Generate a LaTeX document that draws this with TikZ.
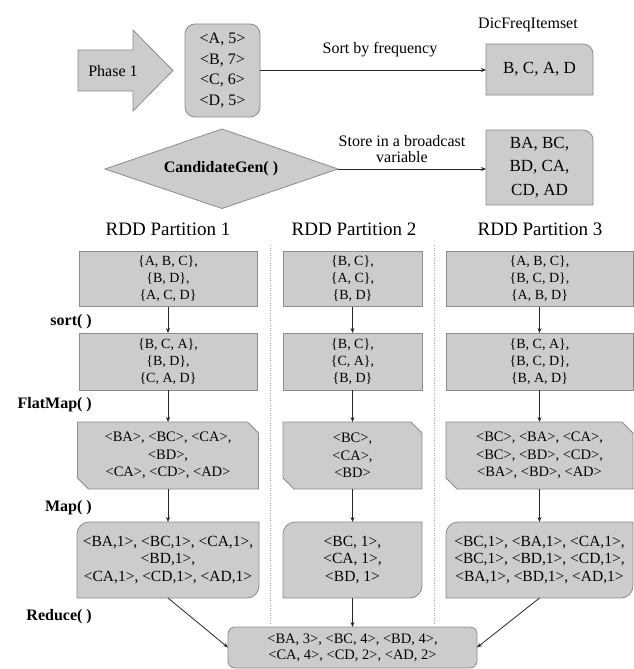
\documentclass[tikz,border=0pt]{standalone}
\usepackage{fontspec}
\setmainfont{Liberation Serif}
\usetikzlibrary{arrows.meta,backgrounds}
\definecolor{boxfill}{RGB}{204,204,204}
\definecolor{boxline}{RGB}{140,140,140}
\tikzset{
  bx/.style={fill=boxfill,draw=boxline,line width=0.8pt},
  arr/.style={-{Stealth[length=5pt,width=4pt]},line width=0.8pt,black!85},
  holder/.style={inner sep=0pt,outer sep=0pt,align=center},
  ftop/.style={font=\fontsize{16}{20.5}\selectfont},
  fbig/.style={font=\fontsize{17}{23.5}\selectfont},
  fset/.style={font=\fontsize{14}{17}\selectfont},
  fflat/.style={font=\fontsize{14.5}{17.5}\selectfont},
  fmap/.style={font=\fontsize{15.5}{17.5}\selectfont},
  fred/.style={font=\fontsize{14.5}{16}\selectfont},
  fhead/.style={font=\fontsize{19}{22}\selectfont},
  lbl/.style={font=\fontsize{16}{19}\selectfont\bfseries,inner sep=0pt,anchor=east},
  sep/.style={draw=gray!70,line width=0.5pt,dotted},
}
\newcommand\plainshape[1]{\draw[bx] (#1.south west) rectangle (#1.north east);}
\newcommand\allroundshape[2]{\draw[bx,rounded corners=#2] (#1.south west) rectangle (#1.north east);}
\newcommand\trroundshape[1]{\draw[bx] (#1.south west) -- (#1.north west) -- ([xshift=-10pt]#1.north east) arc[start angle=90,end angle=0,radius=10pt] -- (#1.south east) -- cycle;}
\newcommand\diagroundshape[1]{\draw[bx] (#1.south west) -- ([yshift=-12pt]#1.north west) arc[start angle=180,end angle=90,radius=12pt] -- (#1.north east) -- ([yshift=12pt]#1.south east) arc[start angle=0,end angle=-90,radius=12pt] -- cycle;}
\newcommand\snipshape[1]{\draw[bx] (#1.north west) -- ([xshift=-11pt]#1.north east) -- ([yshift=-11pt]#1.north east) -- (#1.south east) -- ([xshift=11pt]#1.south west) -- ([yshift=11pt]#1.south west) -- cycle;}
\begin{document}
\begin{tikzpicture}[x=1pt,y=-1pt]
\useasboundingbox (0,0) rectangle (634,669);
% ---------- top part ----------
\draw[bx] (78,50) -- (133,50) -- (133,30) -- (173,70.5) -- (133,111) -- (133,91) -- (78,91) -- cycle;
\node[holder,ftop] (phase) at (113,71) {Phase 1};
\node[holder,ftop,minimum width=75pt,minimum height=93pt] (list) at (222.5,70.5)
  {<A, 5>\\<B, 7>\\<C, 6>\\<D, 5>};
\node[holder,ftop] (dictitle) at (528,25) {DicFreqItemset};
\node[holder,fbig,minimum width=107pt,minimum height=51pt] (dic) at (539.5,69.5) {B, C, A, D};
\node[holder,ftop] (sortlbl) at (380,50) {Sort by frequency};
\draw[bx] (105,169) -- (222,129) -- (338,169) -- (222,208.5) -- cycle;
\node[holder,font=\fontsize{16}{19}\selectfont\bfseries] (cand) at (221,169) {CandidateGen( )};
\coordinate (candE) at (338,169);
\node[holder,fbig,minimum width=107pt,minimum height=75pt] (bcast) at (539.5,167.5)
  {BA, BC,\\BD, CA,\\CD, AD};
\node[holder,font=\fontsize{16}{16.5}\selectfont] (storelbl) at (402,149) {Store in a broadcast\\variable};
\draw[arr] (list.east |- 0,70) -- (dic.west |- 0,70);
\draw[arr] (candE) -- (candE -| bcast.west);
% ---------- headings ----------
\node[holder,fhead] (h1) at (168,229) {RDD Partition 1};
\node[holder,fhead] (h2) at (354,229) {RDD Partition 2};
\node[holder,fhead] (h3) at (540,229) {RDD Partition 3};
\draw[sep] (270,245) -- (270,623);
\draw[sep] (434,245) -- (434,623);
% ---------- column 1 ----------
\node[holder,fset,minimum width=178pt,minimum height=55pt] (t1) at (168,279) {\{A, B, C\},\\\{B, D\},\\\{A, C, D\}};
\node[holder,fset,minimum width=178pt,minimum height=57pt] (s1) at (168,361.5) {\{B, C, A\},\\\{B, D\},\\\{C, A, D\}};
\node[holder,fflat,minimum width=181pt,minimum height=67pt] (f1) at (168,455.5) {<BA>, <BC>, <CA>,\\<BD>,\\<CA>, <CD>, <AD>};
\node[holder,fmap,minimum width=182pt,minimum height=76pt] (m1) at (168,560) {<BA,1>, <BC,1>, <CA,1>,\\<BD,1>,\\<CA,1>, <CD,1>, <AD,1>};
% ---------- column 2 ----------
\node[holder,fset,minimum width=139pt,minimum height=55pt] (t2) at (352.5,279) {\{B, C\},\\\{A, C\},\\\{B, D\}};
\node[holder,fset,minimum width=139pt,minimum height=57pt] (s2) at (352.5,361.5) {\{B, C\},\\\{C, A\},\\\{B, D\}};
\node[holder,fflat,minimum width=139pt,minimum height=67pt] (f2) at (352.5,455.5) {<BC>,\\<CA>,\\<BD>};
\node[holder,fmap,minimum width=139pt,minimum height=76pt] (m2) at (352.5,560) {<BC, 1>,\\<CA, 1>,\\<BD, 1>};
% ---------- column 3 ----------
\node[holder,fset,minimum width=187pt,minimum height=55pt] (t3) at (539.5,279) {\{A, B, C\},\\\{B, C, D\},\\\{A, B, D\}};
\node[holder,fset,minimum width=187pt,minimum height=57pt] (s3) at (539.5,361.5) {\{B, C, A\},\\\{B, C, D\},\\\{B, A, D\}};
\node[holder,fflat,minimum width=187pt,minimum height=67pt] (f3) at (539.5,455.5) {<BC>, <BA>, <CA>,\\<BC>, <BD>, <CD>,\\<BA>, <BD>, <AD>};
\node[holder,fmap,minimum width=187pt,minimum height=76pt] (m3) at (539.5,560) {<BC,1>, <BA,1>, <CA,1>,\\<BC,1>, <BD,1>, <CD,1>,\\<BA,1>, <BD,1>, <AD,1>};
% ---------- reduce ----------
\node[holder,fred,minimum width=249pt,minimum height=41pt] (red) at (352.5,647.5) {<BA, 3>, <BC, 4>, <BD, 4>,\\<CA, 4>, <CD, 2>, <AD, 2>};
% ---------- labels ----------
\node[lbl] (lsort) at (92,322) {sort( )};
\node[lbl] (lflat) at (92,405) {FlatMap( )};
\node[lbl] (lmap) at (92,508) {Map( )};
\node[lbl] (lred) at (92,617) {Reduce( )};
% ---------- arrows ----------
\foreach \c in {1,2,3}{
  \draw[arr] (t\c.south) -- (s\c.north);
  \draw[arr] (s\c.south) -- (f\c.north);
  \draw[arr] (f\c.south) -- (m\c.north);
}
\draw[arr] (m1.south) -- (red.west);
\draw[arr] (m2.south) -- (red.north);
\draw[arr] (m3.south) -- (red.east);
% ---------- shapes behind ----------
\begin{scope}[on background layer]
\allroundshape{list}{10pt}
\trroundshape{dic}
\trroundshape{bcast}
\foreach \c in {1,2,3}{
  \plainshape{t\c}
  \plainshape{s\c}
  \snipshape{f\c}
  \diagroundshape{m\c}
}
\allroundshape{red}{7pt}
\end{scope}
\end{tikzpicture}
\end{document}
